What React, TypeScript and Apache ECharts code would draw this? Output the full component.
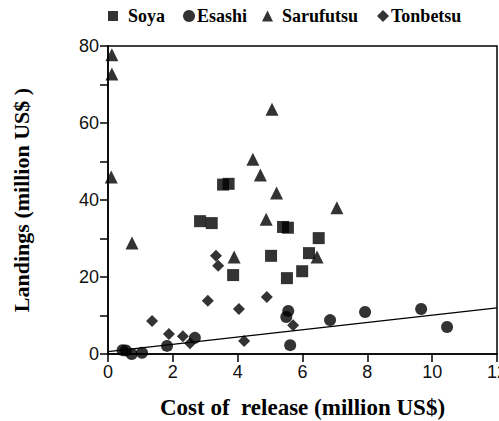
import React, { useEffect, useRef } from "react";
import * as echarts from "echarts";

const soya: [number, number][] = [
  [3.55, 44], [3.72, 44.2], [2.84, 34.5], [3.2, 34], [5.4, 33], [5.55, 32.8],
  [5.03, 25.5], [3.86, 20.5], [5.52, 19.7], [5.99, 21.5], [6.5, 30.1], [6.2, 26.2],
];
const esashi: [number, number][] = [
  [0.45, 1.0], [0.55, 0.9], [0.73, 0], [1.05, 0.3], [1.82, 2.1], [2.68, 4.2],
  [5.56, 11.2], [5.5, 9.6], [5.62, 2.3], [6.85, 8.8], [7.93, 10.9], [9.66, 11.7], [10.46, 7.0],
];
const sarufutsu: [number, number][] = [
  [0.12, 77.7], [0.12, 72.7], [0.1, 46], [0.74, 28.8], [5.06, 63.6], [4.47, 50.6],
  [4.7, 46.5], [5.2, 41.8], [4.88, 35], [3.89, 25.2], [6.45, 25.2], [7.06, 38],
];
const tonbetsu: [number, number][] = [
  [1.36, 8.6], [1.88, 5.2], [2.31, 4.6], [2.53, 2.8], [3.33, 25.5], [3.4, 22.9],
  [3.08, 13.8], [4.04, 11.7], [4.9, 14.8], [4.2, 3.4], [5.71, 7.5],
];
const regression: [number, number][] = [[0, 0.6], [12, 12.0]];

const seriesNames = ["Soya", "Esashi", "Sarufutsu", "Tonbetsu"];
const xTicks = [0, 2, 4, 6, 8, 10, 12];
const yTicks = [0, 20, 40, 60, 80];

export default function App() {
  const ref = useRef<HTMLDivElement>(null);
  useEffect(() => {
    if (!ref.current) return;
    document.body.style.margin = "0";
    document.body.style.overflow = "hidden";
    const chart = echarts.init(ref.current, undefined, { renderer: "svg" });
    const serif = "Liberation Serif";
    const sans = "Liberation Sans";
    const mk = (name: string, data: [number, number][], symbol: string, size: number) => ({
      name,
      type: "scatter",
      data,
      symbol,
      symbolSize: size,
      itemStyle: { color: "#000" },
    });
    const legendText = { fontFamily: serif, fontWeight: "bold", fontSize: 18, color: "#000" };
    const leg = (name: string, icon: string, left: number, size: number, pad: number) => ({
      left,
      top: 7,
      itemWidth: size,
      itemHeight: size,
      padding: 0,
      data: [{ name, icon }],
      formatter: "{a|{name}}",
      textStyle: {
        ...legendText,
        rich: { a: { ...legendText, padding: [0, 0, 0, pad] } },
      },
    });
    chart.setOption({
      animation: false,
      backgroundColor: "#fff",
      legend: [
        leg(seriesNames[0], "rect", 108, 10, 5),
        leg(seriesNames[1], "circle", 183, 12, -3),
        leg(seriesNames[2], "triangle", 262, 11, 4),
        leg(seriesNames[3], "diamond", 377, 12, -3),
      ],
      grid: {
        left: 108,
        right: 2,
        top: 46,
        bottom: 67,
        show: true,
        borderColor: "#000",
        borderWidth: 1.5,
        containLabel: false,
        outerBoundsMode: "none",
      },
      xAxis: {
        type: "value",
        min: xTicks[0],
        max: xTicks[xTicks.length - 1],
        interval: 2,
        name: "Cost of  release (million US$)",
        nameLocation: "middle",
        nameGap: 42,
        nameTextStyle: { fontFamily: serif, fontWeight: "bold", fontSize: 23, color: "#000" },
        axisLine: { lineStyle: { color: "#000", width: 1.5 } },
        axisTick: { length: 8, lineStyle: { color: "#000", width: 1.5 } },
        axisLabel: { fontFamily: sans, fontSize: 18, color: "#111", margin: 9 },
        splitLine: { show: false },
      },
      yAxis: {
        type: "value",
        min: yTicks[0],
        max: yTicks[yTicks.length - 1],
        interval: 20,
        name: "Landings (million US$ )",
        nameLocation: "middle",
        nameRotate: 90,
        nameGap: 76,
        nameTextStyle: { fontFamily: serif, fontWeight: "bold", fontSize: 22, color: "#000" },
        axisLine: { show: true, lineStyle: { color: "#000", width: 1.5 } },
        axisTick: { show: true, length: 8, lineStyle: { color: "#000", width: 1.5 } },
        minorTick: { show: true, splitNumber: 2, length: 8, lineStyle: { color: "#000", width: 1.5 } },
        axisLabel: { fontFamily: sans, fontSize: 18, color: "#111", margin: 9 },
        splitLine: { show: false },
      },
      series: [
        mk(seriesNames[0], soya, "rect", 12),
        mk(seriesNames[1], esashi, "circle", 12),
        mk(seriesNames[2], sarufutsu, "triangle", 13),
        mk(seriesNames[3], tonbetsu, "diamond", 12),
        {
          name: "fit",
          type: "line",
          data: regression,
          symbol: "none",
          lineStyle: { color: "#000", width: 1.2 },
          z: 1,
        },
      ],
    });
    return () => chart.dispose();
  }, []);
  return (
    <div
      ref={ref}
      style={{ position: "absolute", left: 0, top: 0, width: 499, height: 421 }}
    />
  );
}
